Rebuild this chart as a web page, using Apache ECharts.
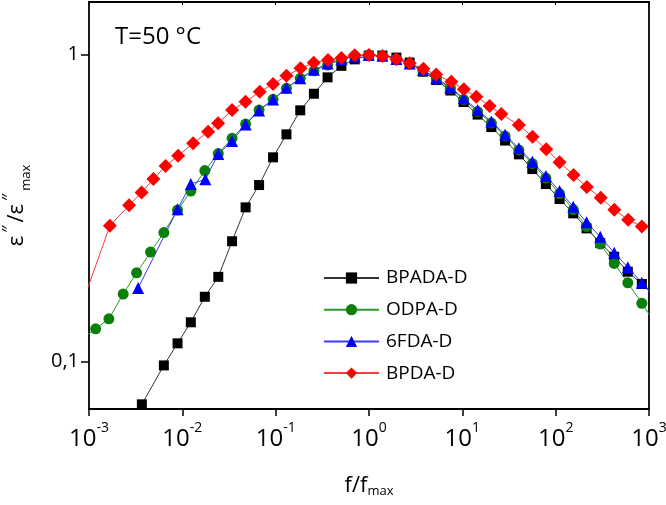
<!DOCTYPE html>
<html lang="en">
<head>
<meta charset="UTF-8">
<title>Normalized loss peaks</title>
<script src="https://cdn.jsdelivr.net/npm/echarts@6/dist/echarts.min.js"></script>
</head>
<body style="margin:0">
<div id="main" style="width:666px;height:505px;"></div>
<script>
// f/fmax and eps''/eps''max
const blackF = [0.00261, 0.003684, 0.006339, 0.008889, 0.01233, 0.01742, 0.02428, 0.03412, 0.04764, 0.06644, 0.09376, 0.1305, 0.1834, 0.2570, 0.3597, 0.5063, 0.7029, 0.993, 1.392, 1.965, 2.728, 3.785, 5.268, 7.438, 10.33, 14.58, 20.44, 28.72, 40.36, 56.17, 78.52, 110.1, 154.3, 214.2, 300.3, 424.1, 592.9, 837.5, 1174];
const blackE = [0.0604, 0.0727, 0.0973, 0.1148, 0.1344, 0.1627, 0.1889, 0.2466, 0.3179, 0.3757, 0.4624, 0.5492, 0.6574, 0.7444, 0.8417, 0.9175, 0.9632, 0.991, 0.991, 0.976, 0.9404, 0.8779, 0.8249, 0.7627, 0.6996, 0.6368, 0.5801, 0.5243, 0.4728, 0.4235, 0.3785, 0.3383, 0.3039, 0.2716, 0.2432, 0.2196, 0.1963, 0.1790, 0.1629];

const greenF = [0.000839, 0.001178, 0.001633, 0.002323, 0.003235, 0.004567, 0.006339, 0.008889, 0.01233, 0.01742, 0.02428, 0.03412, 0.04764, 0.06644, 0.09376, 0.1305, 0.1834, 0.2570, 0.3597, 0.5063, 0.7029, 0.993, 1.392, 1.965, 2.728, 3.785, 5.268, 7.438, 10.33, 14.58, 20.44, 28.72, 40.36, 56.17, 78.52, 110.1, 154.3, 214.2, 300.3, 424.1, 592.9, 837.5, 1174];
const greenE = [0.1185, 0.1280, 0.1379, 0.1661, 0.1946, 0.2275, 0.2632, 0.3115, 0.3591, 0.4188, 0.4757, 0.5331, 0.5932, 0.6589, 0.7138, 0.7751, 0.8354, 0.8842, 0.9230, 0.9618, 0.9873, 0.9948, 0.9873, 0.9654, 0.9300, 0.8857, 0.8310, 0.7751, 0.7127, 0.6515, 0.5977, 0.5422, 0.4882, 0.4413, 0.3959, 0.3525, 0.3127, 0.2754, 0.2415, 0.2089, 0.1807, 0.1549, 0.1332];

const blueF = [0.003362, 0.008889, 0.01233, 0.01764, 0.02428, 0.03412, 0.04764, 0.06644, 0.09376, 0.1305, 0.1834, 0.2570, 0.3597, 0.5063, 0.7029, 0.993, 1.392, 1.965, 2.728, 3.785, 5.268, 7.438, 10.33, 14.58, 20.44, 28.72, 40.36, 56.17, 78.52, 110.1, 154.3, 214.2, 300.3, 424.1, 592.9, 837.5, 1174];
const blueE = [0.1737, 0.3132, 0.3785, 0.3921, 0.4738, 0.5224, 0.5910, 0.6566, 0.7127, 0.7780, 0.8354, 0.8905, 0.9334, 0.9632, 0.9836, 0.9948, 0.9888, 0.9654, 0.9334, 0.8892, 0.8354, 0.7810, 0.7191, 0.6589, 0.6044, 0.5483, 0.4945, 0.4473, 0.4019, 0.3591, 0.3193, 0.2842, 0.2550, 0.2263, 0.2028, 0.1807, 0.1615];

const redF = [0.000799, 0.001674, 0.002687, 0.003658, 0.004892, 0.006609, 0.009016, 0.01305, 0.01889, 0.02417, 0.03412, 0.04749, 0.06757, 0.09376, 0.1305, 0.1846, 0.2560, 0.3639, 0.5063, 0.7029, 1.0, 1.392, 1.965, 2.728, 3.823, 5.243, 7.624, 10.38, 14.12, 19.60, 26.16, 40.36, 56.57, 79.33, 110.1, 155.5, 215.8, 304.0, 425.1, 598.8, 837.5];
const redE = [0.1473, 0.2770, 0.3227, 0.3552, 0.3929, 0.4331, 0.4680, 0.5135, 0.5601, 0.5964, 0.6589, 0.7012, 0.7557, 0.8006, 0.8518, 0.9005, 0.9390, 0.9582, 0.9727, 0.9925, 0.9948, 0.9873, 0.9640, 0.9348, 0.8970, 0.8596, 0.8145, 0.7694, 0.7280, 0.6790, 0.6392, 0.5888, 0.5394, 0.4909, 0.4457, 0.4049, 0.3701, 0.3413, 0.3122, 0.2897, 0.2754];

const yTicks = [0.1, 1];
const yTickText = ['0,1', '1'];

function pairs(xs, ys) {
  return xs.map((x, i) => [x, ys[i]]);
}

const font = 'Open Sans';
let chart = echarts.init(document.getElementById('main'));

function mkSeries(name, xs, ys, symbol, size, fill, line) {
  return {
    name: name,
    type: 'line',
    data: pairs(xs, ys),
    symbol: symbol,
    symbolSize: size,
    showAllSymbol: true,
    clip: true,
    itemStyle: { color: fill },
    lineStyle: { color: line, width: 1 }
  };
}

let option = {
  animation: false,
  backgroundColor: '#fff',
  textStyle: { fontFamily: font, color: '#000' },
  grid: { left: 89, right: 17, top: 2, bottom: 96, containLabel: false, outerBoundsMode: 'none' },
  xAxis: [{
    type: 'log',
    logBase: 10,
    min: 0.001,
    max: 1000,
    name: 'f/f{s|max}',
    nameLocation: 'middle',
    nameGap: 64,
    nameTextStyle: {
      fontSize: 22, color: '#000', fontFamily: font,
      rich: { s: { fontSize: 13, verticalAlign: 'bottom', padding: [12, 0, 0, 0], fontFamily: font } }
    },
    axisLine: { lineStyle: { color: '#000', width: 1.8 } },
    axisTick: { inside: false, length: 7, lineStyle: { color: '#000', width: 1.5 } },
    minorTick: { show: false },
    splitLine: { show: false },
    axisLabel: {
      margin: 12,
      formatter: function (v) {
        const e = Math.round(Math.log10(v));
        return '{b|10}{s|' + e + '}';
      },
      rich: {
        b: { fontSize: 24, fontFamily: font, color: '#000', verticalAlign: 'bottom', lineHeight: 30 },
        s: { fontSize: 14, fontFamily: font, color: '#000', verticalAlign: 'top', lineHeight: 30 }
      }
    }
  }, {
    type: 'log',
    logBase: 10,
    position: 'top',
    min: 0.001,
    max: 1000,
    axisLine: { lineStyle: { color: '#000', width: 1.8 } },
    axisTick: { inside: true, length: 3, lineStyle: { color: '#000', width: 1 } },
    axisLabel: { show: false },
    splitLine: { show: false }
  }],
  yAxis: [{
    type: 'log',
    logBase: 10,
    min: 0.0702,
    max: 1.48,
    name: 'ε{p|″}/ε{p|″}{m|max}',
    nameLocation: 'middle',
    nameRotate: 90,
    nameGap: 56,
    nameTextStyle: {
      fontSize: 22, color: '#000', fontFamily: font,
      rich: {
        p: { fontSize: 18, verticalAlign: 'top', padding: [0, 3, 14, 3], fontFamily: font },
        m: { fontSize: 13, verticalAlign: 'bottom', padding: [12, 0, 0, 0], fontFamily: font }
      }
    },
    axisLine: { lineStyle: { color: '#000', width: 1.8 } },
    axisTick: { length: 8, customValues: yTicks, lineStyle: { color: '#000', width: 1.5 } },
    splitLine: { show: false },
    axisLabel: {
      customValues: yTicks,
      fontSize: 20,
      color: '#000',
      margin: 10,
      fontFamily: font,
      formatter: function (v) {
        const i = yTicks.findIndex(t => Math.abs(t - v) < 1e-9);
        return i >= 0 ? yTickText[i] : '';
      }
    }
  }, {
    type: 'log',
    logBase: 10,
    position: 'right',
    min: 0.0702,
    max: 1.48,
    axisLine: { lineStyle: { color: '#000', width: 1.8 } },
    axisTick: { show: false },
    axisLabel: { show: false },
    splitLine: { show: false }
  }],
  legend: {
    orient: 'vertical',
    left: 318,
    top: 263,
    itemWidth: 55,
    itemHeight: 14,
    itemGap: 11.7,
    textStyle: { fontSize: 19, fontFamily: font, color: '#000', lineHeight: 20, padding: [0, 0, 0, 2] },
    data: ['BPADA-D', 'ODPA-D', '6FDA-D', 'BPDA-D']
  },
  graphic: [{
    type: 'text',
    left: 115,
    top: 25,
    style: { text: 'T=50 °C', fontSize: 24, fontFamily: font, fill: '#000' }
  }],
  series: [
    mkSeries('BPADA-D', blackF, blackE, 'rect', 10, '#000000', '#333333'),
    mkSeries('ODPA-D', greenF, greenE, 'circle', 11, '#0a800a', '#2a9a2a'),
    mkSeries('6FDA-D', blueF, blueE, 'triangle', 12, '#0000ff', '#3a3aff'),
    mkSeries('BPDA-D', redF, redE, 'diamond', 14, '#ff0000', '#ff3a3a')
  ]
};

chart.setOption(option);
</script>
</body>
</html>
